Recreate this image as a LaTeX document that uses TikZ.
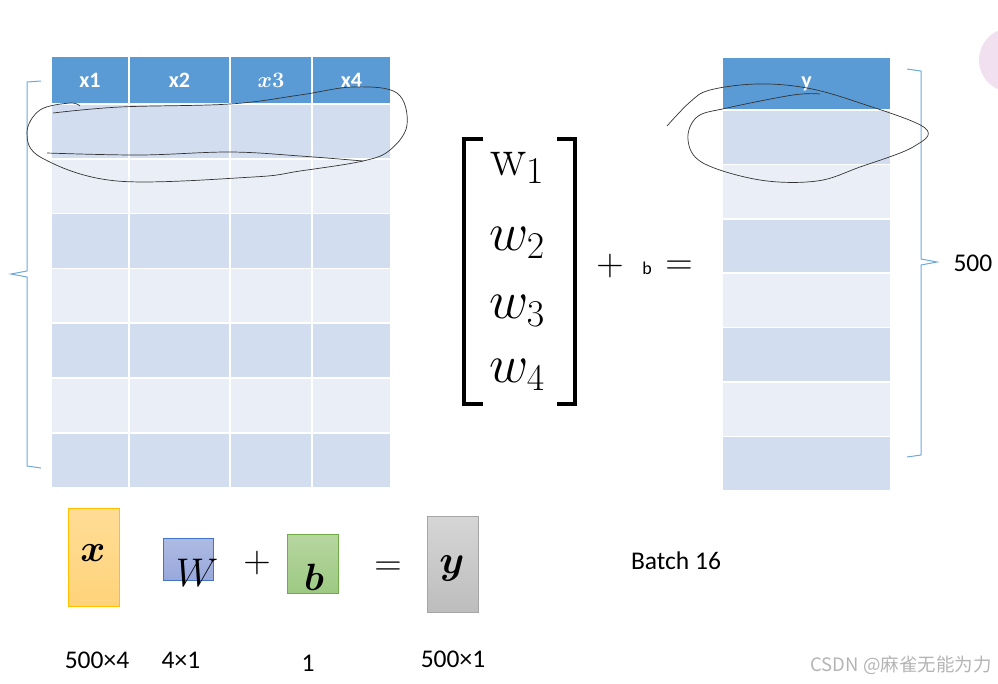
\RequirePackage{fix-cm}
\documentclass[tikz,border=0pt]{standalone}
\usepackage{amsmath,bm}
\usepackage[no-math]{fontspec}
\setmainfont{Carlito}
\newfontfamily\cjkfont{Noto Sans CJK SC}
\usetikzlibrary{positioning}

\definecolor{headblue}{HTML}{5B9BD5}
\definecolor{rowdark}{HTML}{D2DEEF}
\definecolor{rowlight}{HTML}{EAEFF7}
\definecolor{bracecol}{HTML}{6FA8DC}
\definecolor{marksgray}{HTML}{B4B4B4}
\definecolor{xline}{HTML}{FFC000}
\definecolor{xtop}{HTML}{FFDC96}
\definecolor{xbot}{HTML}{FFD37A}
\definecolor{wline}{HTML}{4472C4}
\definecolor{wtop}{HTML}{AEBBE3}
\definecolor{wbot}{HTML}{98A8DB}
\definecolor{bline}{HTML}{70AD47}
\definecolor{btop}{HTML}{B7D6A0}
\definecolor{bbot}{HTML}{9DC982}
\definecolor{yline}{HTML}{A5A5A5}
\definecolor{ytop}{HTML}{D6D6D6}
\definecolor{ybot}{HTML}{BDBDBD}

\tikzset{
    cell/.style={draw=white, line width=1.5pt, inner sep=0pt},
    headtxt/.style={text=white, font=\fontsize{22}{22}\selectfont\bfseries},
    sizetxt/.style={font=\fontsize{25.5}{25.5}\selectfont},
    mathbig/.style={font=\fontsize{38}{38}\selectfont},
    entry/.style={font=\fontsize{54}{54}\selectfont, anchor=base},
    ink/.style={black!80, line width=0.7pt}
}

\begin{document}
\begin{tikzpicture}[x=1pt, y=-1pt]
    \useasboundingbox (0,0) rectangle (998,683);
    \begin{scope}
        \clip (0,0) rectangle (998,683);
        \fill[violet!12] (1011,60) circle (32);
    \end{scope}

    % left table
    \foreach \a/\b/\t [count=\c] in {51/129/x1, 129/230/x2, 230/312/$\bm{x}\mathbf{3}$, 312/391/x4} {
        \node[cell, fill=headblue, minimum width=\b-\a, minimum height=48,
              headtxt] (h\c) at ({(\a+\b)/2}, 80) {\t};
        \foreach \r/\col in {1/rowdark, 2/rowlight, 3/rowdark, 4/rowlight,
                             5/rowdark, 6/rowlight, 7/rowdark}
            \node[cell, fill=\col, minimum width=\b-\a, minimum height=54.8]
                (c\r\c) at ({(\a+\b)/2}, {104+54.8*(\r-0.5)}) {};
    }

    % right table
    \node[cell, fill=headblue, minimum width=168, minimum height=53, headtxt]
        (hy) at (806.5, 83.5) {y};
    \foreach \r/\col in {1/rowdark, 2/rowlight, 3/rowdark, 4/rowlight,
                         5/rowdark, 6/rowlight, 7/rowdark}
        \node[cell, fill=\col, minimum width=168, minimum height=54.4]
            (y\r) at (806.5, {110+54.4*(\r-0.5)}) {};

    % braces
    \draw[bracecol, line width=1pt] (41,81) -- (27,82) -- (27,271) -- (11,274)
        -- (27,277) -- (27,466) -- (41,468);
    \draw[bracecol, line width=1pt] (907,69) -- (921,71) -- (921,259) -- (937,262)
        -- (921,265) -- (921,455) -- (907,457);
    \node[sizetxt, anchor=west] (n500) at (950,263) {500};

    % weight vector
    \node[entry] (w1) at (517,175) {$\mathrm{w}_1$};
    \node[entry] (w2) at (517,250) {$w_2$};
    \node[entry] (w3) at (517,318) {$w_3$};
    \node[entry] (w4) at (517,382) {$w_4$};
    \draw[line width=3.5pt] (483,139) -- (464,139) -- (464,404) -- (483,404);
    \draw[line width=3.5pt] (557,139) -- (575,139) -- (575,404) -- (557,404);
    \node[mathbig] (plus1) at (610,266) {$+$};
    \node[font=\fontsize{18}{18}\selectfont] (b1) at (647,268) {b};
    \node[mathbig] (eq1) at (679,268) {$=$};

    % hand-drawn loops
    \draw[ink] plot[smooth, tension=0.6] coordinates {(47,153) (140,155) (230,152)
        (300,156) (363,161)};
    \draw[ink] plot[smooth, tension=0.6] coordinates {(53,113) (120,107) (230,104)
        (300,95) (353,87) (397,93) (407,125) (390,150) (363,161) (300,171)
        (253,177) (117,181) (42,158) (27,133) (40,110) (70,103) (80,106)};
    \draw[ink] plot[smooth, tension=0.6] coordinates {(667,126) (690,102) (710,90)
        (757,84) (807,88) (860,103) (925,128) (913,147) (860,167) (817,181)
        (760,180) (703,163) (688,140) (697,117) (727,108) (793,95) (820,94)};

    % shapes of the product
    \node[draw=xline, top color=xtop, bottom color=xbot,
          minimum width=51, minimum height=98] (xbox) at (93.5,557) {};
    \node[draw=wline, top color=wtop, bottom color=wbot,
          minimum width=50, minimum height=42] (wbox) at (188,559) {};
    \node[mathbig] (plus2) at (257,563) {$+$};
    \node[draw=bline, top color=btop, bottom color=bbot,
          minimum width=51, minimum height=59] (bbox) at (312.5,563.5) {};
    \node[mathbig] (eq2) at (388,569) {$=$};
    \node[draw=yline, top color=ytop, bottom color=ybot,
          minimum width=51, minimum height=96] (ybox) at (452.5,564) {};
    \node[mathbig] (xl) at (93,553) {$\bm{x}$};
    \node[font=\fontsize{40}{40}\selectfont] (wl) at (197,573) {$W$};
    \node[mathbig] (bl) at (314,577) {$\bm{b}$};
    \node[font=\fontsize{40}{40}\selectfont] (yl) at (452,568) {$\bm{y}$};

    \node[sizetxt] (s1) at (97,660) {500×4};
    \node[sizetxt] (s2) at (181,660) {4×1};
    \node[sizetxt] (s3) at (308,663) {1};
    \node[sizetxt] (s4) at (453,659) {500×1};
    \node[sizetxt] (batch) at (676,561) {Batch 16};

    \node[text=marksgray, font=\fontsize{18.5}{18.5}\selectfont\cjkfont] (mark)
        at (901,665) {CSDN @麻雀无能为力};
\end{tikzpicture}
\end{document}
